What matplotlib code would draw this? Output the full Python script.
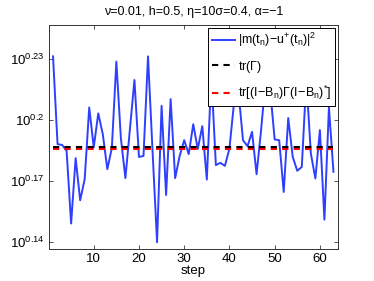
import numpy as np
import matplotlib
matplotlib.use("Agg")
import matplotlib.pyplot as plt
from matplotlib.ticker import FixedLocator, FixedFormatter, NullLocator

plt.rcParams['font.family'] = ['Liberation Sans', 'DejaVu Sans']
plt.rcParams['mathtext.fontset'] = 'custom'
plt.rcParams['mathtext.rm'] = 'Liberation Sans'
plt.rcParams['mathtext.it'] = 'Liberation Sans'
plt.rcParams['mathtext.default'] = 'regular'

steps = np.arange(1, 64)
err_log10 = [0.2313, 0.1882, 0.1878, 0.1849, 0.1492, 0.1813, 0.1606, 0.1710, 0.2062, 0.1866,
             0.2033, 0.1931, 0.1759, 0.1862, 0.2287, 0.1911, 0.1715, 0.1956, 0.2197, 0.1819,
             0.1824, 0.2313, 0.1849, 0.1400, 0.2070, 0.1632, 0.2103, 0.1715, 0.1824, 0.1901,
             0.1833, 0.1980, 0.1858, 0.1970, 0.1708, 0.2220, 0.1779, 0.1790, 0.1775, 0.1860,
             0.2082, 0.2140, 0.1901, 0.1872, 0.1942, 0.1734, 0.1951, 0.2200, 0.2150, 0.1905,
             0.1901, 0.1647, 0.2010, 0.1819, 0.1751, 0.1770, 0.2200, 0.1836, 0.1713, 0.1951,
             0.1511, 0.2062, 0.1746]
tr_gamma_log10 = 0.1866
tr_B_log10 = 0.1858

ytick_exps = [0.14, 0.17, 0.2, 0.23]
ytick_labels = [r'$10^{0.14}$', r'$10^{0.17}$', r'$10^{0.2}$', r'$10^{0.23}$']
xticks = [10, 20, 30, 40, 50, 60]

err = 10 ** np.array(err_log10)

fig = plt.figure(figsize=(3.74, 2.81), dpi=100)
ax = fig.add_axes([0.1297, 0.114, 0.9037 - 0.1297, 0.911 - 0.114])

ax.plot(steps, err, color='#2f3fff', lw=1.4,
        label=r'$|m(t_n)\!-\!u^{+}(t_n)|^2$')
ax.plot(steps, np.full(len(steps), 10 ** tr_gamma_log10), color='black', lw=1.5,
        ls=(0, (3, 2.5)), label=r'$tr(\Gamma)$', zorder=3)
ax.plot(steps, np.full(len(steps), 10 ** tr_B_log10), color='red', lw=1.5,
        ls=(0, (3, 2.5)), label=r'$tr[(I\!-\!B_n)\Gamma(I\!-\!B_n)^{*}]$', zorder=2)

ax.set_yscale('log')
ax.set_xlim(0, 64)
ax.set_ylim(10 ** 0.1367, 10 ** 0.2467)
ax.yaxis.set_major_locator(FixedLocator([10 ** e for e in ytick_exps]))
ax.yaxis.set_major_formatter(FixedFormatter(ytick_labels))
ax.yaxis.set_minor_locator(NullLocator())
ax.set_xticks(xticks)

ax.tick_params(direction='in', top=True, right=True, length=3, width=0.6,
               labelsize=9.5, colors='#333333', labelcolor='black', pad=3)
for s in ax.spines.values():
    s.set_color('#333333')
    s.set_linewidth(0.7)

ax.set_xlabel('step', fontsize=9.5, labelpad=0)
ax.set_title('ν=0.01, h=0.5, η=10σ=0.4, α=−1', fontsize=9, pad=7)

leg = ax.legend(loc='upper right', fontsize=9, frameon=True, fancybox=False,
                edgecolor='black', framealpha=1, handlelength=1.8, handletextpad=0.3,
                borderaxespad=0.2, borderpad=0.3, labelspacing=0.75)
leg.get_frame().set_linewidth(0.7)

fig.savefig('out.png', dpi=100)
